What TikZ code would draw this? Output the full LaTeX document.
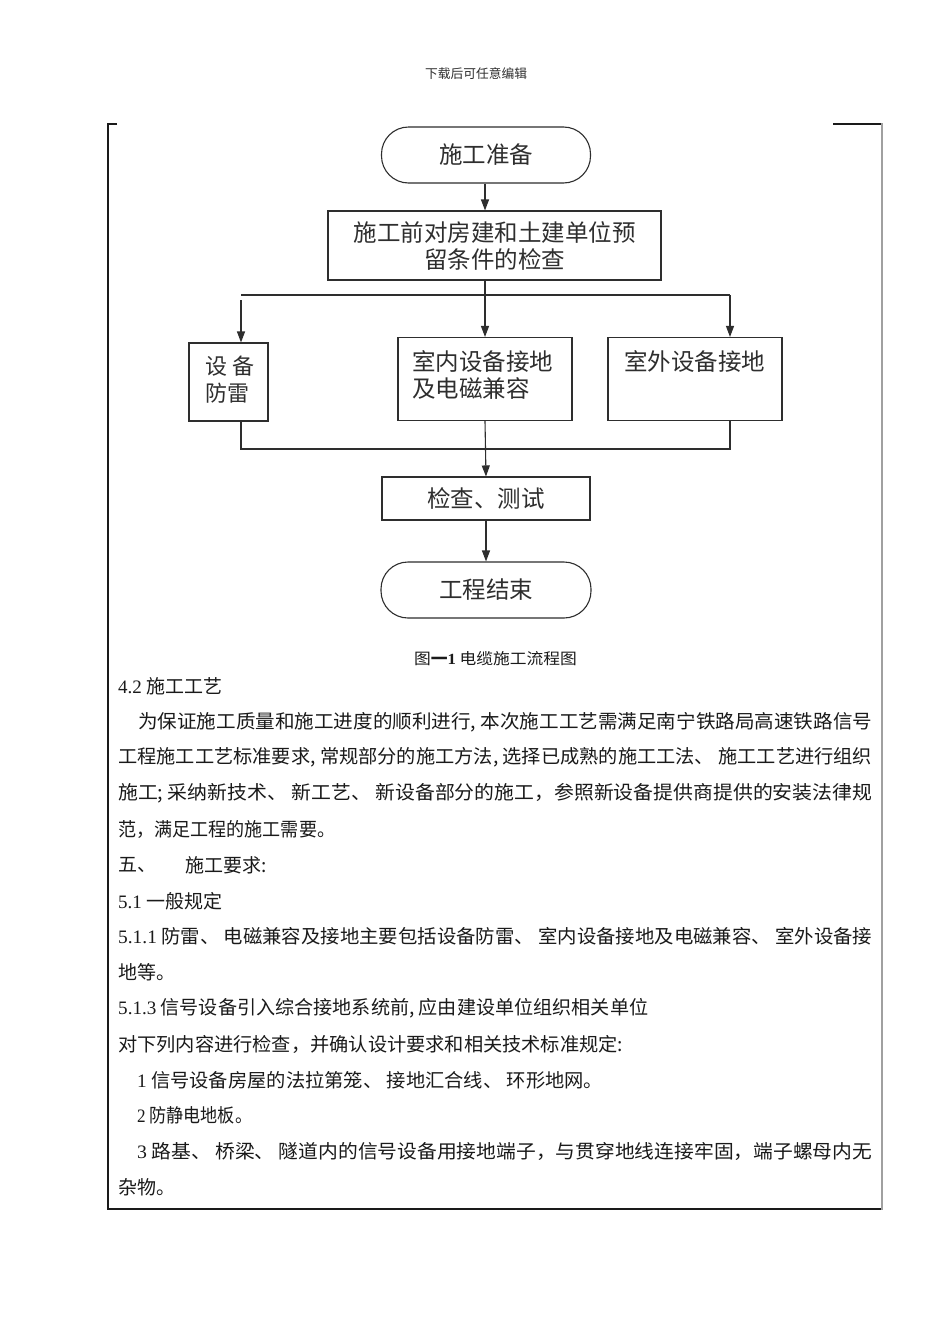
\documentclass[tikz,border=0pt]{standalone}
\usepackage{fontspec}
\usepackage{graphicx}
\setmainfont{Noto Sans CJK SC}
\newfontfamily\lat{Liberation Serif}
\usetikzlibrary{arrows.meta}
\definecolor{ink}{HTML}{1A1A1A}
\definecolor{fc}{HTML}{2E2E2E}
\definecolor{rgray}{HTML}{A0A0A0}
\newcommand\bodyline[5]{\node[body] (#1) at (#2,#3) {\resizebox{#4pt}{\height}{#5}};}
\begin{document}
\begin{tikzpicture}[x=1pt,y=-1pt,
  fbox/.style={draw=fc, line width=1.1pt, inner sep=0pt},
  term/.style={fbox, rounded corners=27pt},
  fl/.style={font=\fontsize{23.5}{27}\selectfont, text=fc, inner sep=0pt},
  conn/.style={draw=fc, line width=1.1pt},
  arr/.style={conn, -{Triangle[length=11pt,width=8pt]}},
  body/.style={font=\fontsize{19}{19}\selectfont, text=ink, inner sep=0pt, anchor=west},
  frame/.style={draw=ink, line width=1.4pt}
]
\fill[white] (0,0) rectangle (950,1344);
\useasboundingbox (0,0) rectangle (950,1344);

% header
\node[font=\fontsize{12.75}{13}\selectfont, text=fc, inner sep=0pt] (hdr) at (476,74) {下载后可任意编辑};

% frame
\draw[frame] (117,124) -- (108,124) -- (108,1209) -- (882,1209);
\draw[frame] (833,124) -- (882,124);
\draw[draw=rgray, line width=2pt] (882,123.3) -- (882,1209.7);

% flowchart nodes
\node[term, fl, minimum width=209pt, minimum height=56pt] (start) at (486,155) {施工准备};
\node[fbox, fl, minimum width=333pt, minimum height=69pt, align=center] (chk) at (494.5,245.5) {施工前对房建和土建单位预\\留条件的检查};
\node[fbox, minimum width=79pt, minimum height=78pt] (b1) at (228.5,382) {};
\node[fbox, minimum width=174pt, minimum height=83pt] (b4) at (485,379) {};
\node[fbox, minimum width=174pt, minimum height=83pt] (b5) at (695,379) {};
\node[fl, font=\fontsize{22}{27}\selectfont, anchor=west, align=left] (b1t) at (205,380) {设 备\\防雷};
\node[fl, anchor=west, align=left] (b4t) at (412,374.5) {室内设备接地\\及电磁兼容};
\node[fl, anchor=west] (b5t) at (624,361) {室外设备接地};
\node[fbox, fl, minimum width=208pt, minimum height=43pt] (test) at (486,498.5) {检查、测试};
\node[term, fl, minimum width=210pt, minimum height=56pt] (end) at (486,590) {工程结束};

% connectors
\coordinate (split) at (485,295);
\coordinate (hl) at (241,295);
\coordinate (hr) at (730,295);
\coordinate (la) at (241,300);
\coordinate (jl) at (241,449);
\coordinate (jr) at (730,449);
\draw[arr] (start.south -| split) -- (split |- chk.north);
\draw[conn] (split |- chk.south) -- (split);
\draw[conn] (hl) -- (hr);
\draw[arr] (la) -- (la |- b1.north);
\draw[arr] (split) -- (b4.north);
\draw[arr] (hr) -- (hr |- b5.north);
\draw[conn] (hl |- b1.south) -- (jl) -- (jr) -- (hr |- b5.south);
\draw[arr] (b4.south) -- (test.north);
\draw[arr] (test.south) -- (end.north);

% caption
\node[font=\fontsize{15.5}{16}\selectfont, text=ink, inner sep=0pt] (cap) at (495.5,659) {\resizebox{163pt}{\height}{图{\bfseries 一}{\lat\bfseries 1} 电缆施工流程图}};

% body text
\bodyline{l1}{118}{686}{104}{{\lat 4.2} 施工工艺}
\bodyline{l2}{138}{721.8}{734}{为保证施工质量和施工进度的顺利进行, 本次施工工艺需满足南宁铁路局高速铁路信号}
\bodyline{l3}{118}{757.6}{754}{工程施工工艺标准要求, 常规部分的施工方法, 选择已成熟的施工工法、 施工工艺进行组织}
\bodyline{l4}{118}{793.4}{754}{施工; 采纳新技术、 新工艺、 新设备部分的施工，参照新设备提供商提供的安装法律规}
\bodyline{l5}{118}{829.2}{217}{范，满足工程的施工需要。}
\node[body] (l6a) at (118,865) {五、};
\node[body] (l6b) at (185,865) {施工要求:};
\bodyline{l7}{118}{900.8}{104}{{\lat 5.1} 一般规定}
\bodyline{l8}{118}{936.6}{754}{{\lat 5.1.1} 防雷、 电磁兼容及接地主要包括设备防雷、 室内设备接地及电磁兼容、 室外设备接}
\node[body] (l9) at (118,972.4) {地等。};
\bodyline{l10}{118}{1008.2}{530}{{\lat 5.1.3} 信号设备引入综合接地系统前, 应由建设单位组织相关单位}
\bodyline{l11}{118}{1044}{505}{对下列内容进行检查，并确认设计要求和相关技术标准规定:}
\bodyline{l12}{137}{1079.8}{466}{{\lat 1} 信号设备房屋的法拉第笼、 接地汇合线、 环形地网。}
\bodyline{l13}{137}{1115.6}{115}{{\lat 2} 防静电地板。}
\bodyline{l14}{137}{1151.4}{735}{{\lat 3} 路基、 桥梁、 隧道内的信号设备用接地端子，与贯穿地线连接牢固，端子螺母内无}
\node[body] (l15) at (118,1187.2) {杂物。};
\end{tikzpicture}
\end{document}
